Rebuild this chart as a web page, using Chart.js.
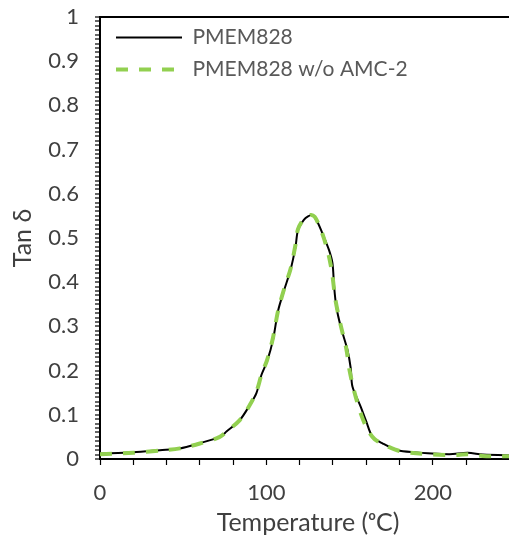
<!DOCTYPE html>
<html>
<head>
<meta charset="utf-8">
<script src="https://cdn.jsdelivr.net/npm/chart.js@4.4.1/dist/chart.umd.min.js"></script>
<style>
  html, body { margin: 0; padding: 0; background: #fff; overflow: hidden; }
  #wrap { width: 516px; height: 542px; }
</style>
</head>
<body>
<div id="wrap"><canvas id="tanChart" width="516" height="542"></canvas></div>
<script>
// tan delta vs temperature
const tempPmem = [0, 20, 36, 48, 60, 72, 76, 84, 90, 94, 97, 100.5, 104, 107, 110.5, 114.5, 117.5, 119, 122.5, 125, 127.6, 130.6, 133.6, 137.6, 139.7, 140.7, 142, 144.7, 148.7, 150.7, 151.7, 156.7, 160, 163.8, 170, 178.8, 190, 197, 210, 221, 230, 250];
const tanPmem  = [0.012, 0.015, 0.02, 0.024, 0.036, 0.05, 0.062, 0.088, 0.122, 0.149, 0.19, 0.222, 0.27, 0.335, 0.38, 0.428, 0.48, 0.518, 0.541, 0.549, 0.552, 0.537, 0.511, 0.473, 0.443, 0.39, 0.345, 0.299, 0.247, 0.205, 0.164, 0.118, 0.085, 0.05, 0.035, 0.02, 0.015, 0.013, 0.011, 0.014, 0.01, 0.008];

const tempNoAmc = [0, 20, 36, 48, 60, 72, 76, 84, 90, 94, 97, 100.5, 104, 107, 110.5, 114.5, 117.5, 119, 122.5, 126.5, 129, 131.5, 134.5, 137.5, 139.5, 141.5, 144.5, 148, 150, 153, 157, 161, 165, 172, 180, 190, 200, 215, 221, 230, 250];
const tanNoAmc  = [0.011, 0.014, 0.019, 0.024, 0.035, 0.05, 0.062, 0.088, 0.122, 0.152, 0.19, 0.225, 0.275, 0.335, 0.383, 0.43, 0.485, 0.52, 0.543, 0.552, 0.548, 0.53, 0.5, 0.46, 0.42, 0.36, 0.305, 0.25, 0.2, 0.15, 0.1, 0.065, 0.045, 0.03, 0.018, 0.013, 0.01, 0.009, 0.011, 0.007, 0.006];

const seriesNames = ['PMEM828', 'PMEM828 w/o AMC-2'];
const xLabelTicks = [0, 100, 200];

const FONT = 'Lato, "Open Sans", "Liberation Sans", sans-serif';
const toPoints = (xs, ys) => xs.map((x, i) => ({ x: x, y: ys[i] }));
const isTop = c => c.tick && Math.abs(c.tick.value - 1) < 1e-9;

// keep the legend tucked into the top-left corner of the plot
const legendInset = {
  id: 'legendInset',
  afterLayout(ch) {
    const lg = ch.legend;
    if (!lg) return;
    lg.left = ch.chartArea.left + 5;
    lg.top = ch.chartArea.top - 1;
  },
};

new Chart(document.getElementById('tanChart'), {
  type: 'line',
  data: {
    datasets: [
      {
        label: seriesNames[0],
        data: toPoints(tempPmem, tanPmem),
        borderColor: '#000000',
        backgroundColor: '#000000',
        borderWidth: 2,
        pointRadius: 0,
        tension: 0.3,
        order: 2,
      },
      {
        label: seriesNames[1],
        data: toPoints(tempNoAmc, tanNoAmc),
        borderColor: '#92D050',
        backgroundColor: '#92D050',
        borderWidth: 4,
        borderDash: [12, 11],
        pointRadius: 0,
        tension: 0.3,
        order: 1,
      },
    ],
  },
  plugins: [legendInset],
  options: {
    responsive: false,
    animation: false,
    devicePixelRatio: 1,
    layout: { padding: { top: 17, right: 0, left: 0, bottom: 0 } },
    plugins: {
      tooltip: { enabled: false },
      legend: {
        position: 'chartArea',
        align: 'start',
        labels: {
          usePointStyle: true,
          pointStyle: 'line',
          pointStyleWidth: 66,
          boxWidth: 66,
          padding: 11,
          color: '#595959',
          font: { family: FONT, size: 21 },
          sort: (a, b) => a.datasetIndex - b.datasetIndex,
          generateLabels: ch => Chart.defaults.plugins.legend.labels.generateLabels(ch).map(item => {
            const ds = ch.data.datasets[item.datasetIndex];
            item.lineDash = ds.borderDash || [];
            item.lineWidth = ds.borderWidth;
            item.strokeStyle = ds.borderColor;
            return item;
          }),
        },
      },
    },
    scales: {
      x: {
        type: 'linear',
        min: 0,
        max: 250,
        afterFit: s => { s.height = 83; s.paddingLeft = 0; s.paddingRight = 0; },
        ticks: {
          stepSize: 20,
          autoSkip: false,
          maxRotation: 0,
          padding: 15,
          color: '#404040',
          font: { family: FONT, size: 22 },
          callback: v => xLabelTicks.includes(v) ? String(v) : '',
        },
        grid: { drawOnChartArea: false, tickLength: 6, tickColor: '#000', tickWidth: 1.2 },
        border: { color: '#000', width: 2 },
        title: {
          display: true,
          text: 'Temperature (ᵒC)',
          color: '#404040',
          font: { family: FONT, size: 25 },
          padding: { top: 4, bottom: 4 },
        },
      },
      y: {
        min: 0,
        max: 1,
        afterFit: s => { s.width = 100; s.paddingTop = 0; s.paddingBottom = 0; },
        ticks: {
          stepSize: 0.01,
          autoSkip: false,
          padding: 16,
          color: '#404040',
          font: { family: FONT, size: 22 },
          callback: v => Math.round(v * 100) % 10 === 0 ? String(Math.round(v * 10) / 10) : '',
        },
        // only the line at 1 is drawn across the plot: it is the top frame
        grid: {
          drawOnChartArea: true,
          tickLength: 5,
          tickColor: '#000',
          tickWidth: 1.2,
          color: c => isTop(c) ? '#000' : 'rgba(0,0,0,0)',
          lineWidth: c => isTop(c) ? 2 : 0,
        },
        border: { color: '#000', width: 2 },
        title: {
          display: true,
          text: 'Tan δ',
          color: '#404040',
          font: { family: FONT, size: 25 },
          padding: { top: 8, bottom: 8 },
        },
      },
    },
  },
});
</script>
</body>
</html>
